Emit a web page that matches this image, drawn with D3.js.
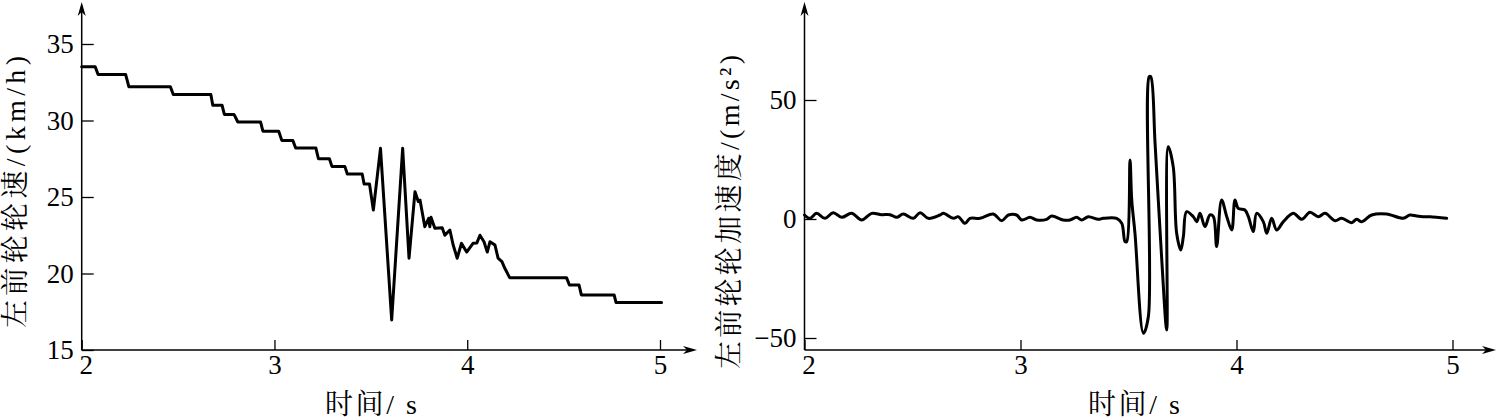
<!DOCTYPE html>
<html><head><meta charset="utf-8">
<script src="https://cdn.jsdelivr.net/npm/d3@7"></script>
<style>body{margin:0;background:#fff}
svg text{font-family:"Liberation Serif",Tinos,"Noto Serif CJK SC","Noto Serif",serif;}
svg text.cjk{font-family:"Liberation Serif",Tinos,"Noto Serif CJK SC","Noto Sans CJK SC",serif;}
</style>
</head><body><svg id="c" width="1497" height="420"></svg>
<script>
// ---- data ----
const timeL = [2.000,2.070,2.085,2.228,2.245,2.460,2.475,2.670,2.680,2.728,2.740,2.790,2.810,2.928,2.940,3.022,3.038,3.095,3.110,3.215,3.228,3.285,3.298,3.365,3.378,3.455,3.465,3.493,3.513,3.550,3.608,3.665,3.698,3.729,3.746,3.755,3.780,3.800,3.806,3.812,3.832,3.870,3.884,3.910,3.927,3.948,3.970,3.997,4.030,4.050,4.066,4.087,4.104,4.118,4.144,4.160,4.180,4.195,4.220,4.515,4.530,4.580,4.592,4.762,4.772,5.008];
const speedL = [33.52,33.52,33.0,33.0,32.2,32.2,31.7,31.7,31.0,31.0,30.4,30.4,29.9,29.9,29.3,29.3,28.7,28.7,28.2,28.2,27.5,27.5,27.0,27.0,26.5,26.5,25.85,25.85,24.15,28.18,16.96,28.18,21.0,25.35,24.7,24.8,23.06,23.6,23.06,23.67,22.95,22.99,22.5,22.84,21.86,21.0,21.97,21.4,21.97,22.0,22.5,22.08,21.4,22.08,21.86,21.0,20.77,20.34,19.73,19.73,19.25,19.25,18.6,18.6,18.1,18.1];
const timeR = [2.000,2.025,2.056,2.095,2.133,2.172,2.218,2.265,2.311,2.357,2.396,2.427,2.457,2.504,2.535,2.573,2.627,2.643,2.689,2.712,2.743,2.766,2.813,2.874,2.913,2.944,2.982,3.006,3.044,3.075,3.121,3.144,3.198,3.229,3.260,3.283,3.314,3.360,3.383,3.445,3.469,3.484,3.492,3.507,3.515,3.530,3.569,3.592,3.596,3.603,3.623,3.654,3.677,3.684,3.707,3.723,3.742,3.754,3.769,3.800,3.816,3.831,3.854,3.877,3.893,3.908,3.931,3.955,3.978,3.993,4.008,4.039,4.055,4.078,4.093,4.124,4.140,4.163,4.186,4.217,4.263,4.302,4.340,4.379,4.410,4.456,4.487,4.533,4.556,4.580,4.626,4.695,4.772,4.803,4.834,4.865,4.896,4.973];
const accelR = [1.68,0.28,2.38,0.28,2.66,0.7,2.38,-0.42,2.38,1.82,1.82,0.7,2.1,0.28,2.66,0.28,1.68,2.38,0.28,0.98,-1.82,0.28,0.28,2.1,-0.7,1.68,1.68,-0.42,0.7,-0.42,-0.14,1.26,-0.42,-0.42,0.7,-0.42,0.98,-0.14,0.28,0.28,-1.82,-9.5,-9.5,24.8,8.0,-6.0,-48.0,-41.0,59.8,59.8,31.8,-17.2,-46.6,30.4,22.0,-6.0,-13.0,-7.4,3.08,0.98,-1.12,2.38,-3.2,1.68,0.98,-11.6,8.0,0.98,-4.6,8.0,4.48,3.78,0.98,-5.3,2.38,-1.12,-6.0,0.28,-4.6,-1.12,2.38,-0.14,2.8,0.98,2.38,-0.7,0.28,-1.54,-0.14,-1.12,1.68,2.1,0.28,1.68,1.26,0.98,0.98,0.28];
const xTicks = [2,3,4,5];
const yTicksL = [15,20,25,30,35];
const yTicksR = [-50,0,50];
const xTitle = "时间/ s";
const yTitleL = "左前轮轮速/(km/h)";
const yTitleR = "左前轮轮加速度/(m/s²)";

const svg = d3.select("#c");

function panel(cfg){
  const {x, y, times, vals, yTicks, yTitle, yTitlePos, yTitleLen, xTitlePos, xEnd, base, curve} = cfg;
  const g = svg.append("g");
  const x0 = x.range()[0];
  g.append("line").attr("x1",x0).attr("x2",xEnd-8).attr("y1",base).attr("y2",base)
    .attr("stroke","#000").attr("stroke-width",1.5);
  g.append("line").attr("x1",x0).attr("x2",x0).attr("y1",base).attr("y2",10)
    .attr("stroke","#000").attr("stroke-width",1.5);
  g.append("path").attr("d",`M${xEnd},${base} L${xEnd-14},${base-4} L${xEnd-10},${base} L${xEnd-14},${base+4}Z`).attr("fill","#000");
  g.append("path").attr("d",`M${x0},2 L${x0-4},16 L${x0},12 L${x0+4},16Z`).attr("fill","#000");
  const gx = g.append("g").attr("transform",`translate(0,${base})`)
    .call(d3.axisBottom(x).tickValues(xTicks).tickFormat(d3.format("d")).tickSizeInner(-10).tickSizeOuter(0).tickPadding(5));
  gx.select(".domain").remove();
  gx.attr("font-family",null);
  gx.selectAll("line").attr("stroke-width",1.3);
  gx.selectAll("text").attr("font-size",27).attr("fill","#000");
  gx.selectAll(".tick").filter(d=>d===xTicks[0]).select("text").attr("dx","0.15em");
  const gy = g.append("g").attr("transform",`translate(${x0},0)`)
    .call(d3.axisLeft(y).tickValues(yTicks).tickFormat(d=> d<0 ? "\u2212"+Math.abs(d) : d).tickSizeInner(-12).tickSizeOuter(0).tickPadding(8));
  gy.select(".domain").remove();
  gy.attr("font-family",null);
  gy.selectAll("line").attr("stroke-width",1.3);
  gy.selectAll("text").attr("font-size",27).attr("fill","#000");
  const pts = times.map((t,i)=>[t, vals[i]]);
  g.append("path").datum(pts)
    .attr("d", d3.line().curve(curve).x(d=>x(d[0])).y(d=>y(d[1])))
    .attr("fill","none").attr("stroke","#000").attr("stroke-width",3)
    .attr("stroke-linejoin","round").attr("stroke-linecap","round");
  g.append("text").attr("class","cjk").attr("x",xTitlePos[0]).attr("y",xTitlePos[1])
    .attr("text-anchor","middle").attr("font-size",28)
    .attr("textLength",92).attr("lengthAdjust","spacing").text(xTitle);
  g.append("text").attr("class","cjk").attr("transform",`translate(${yTitlePos[0]},${yTitlePos[1]}) rotate(-90)`)
    .attr("text-anchor","middle").attr("dominant-baseline","central")
    .attr("font-size",28)
    .attr("textLength",yTitleLen).attr("lengthAdjust","spacing").text(yTitle);
}

panel({
  x: d3.scaleLinear([2,5],[81.7,660]),
  y: d3.scaleLinear([15,35],[350,44]),
  times: timeL, vals: speedL, yTicks: yTicksL,
  yTitle: yTitleL, yTitlePos:[15,192], yTitleLen:272,
  xTitlePos:[371,414], xEnd:697, base:350, curve: d3.curveLinear
});
panel({
  x: d3.scaleLinear([2,5],[804.5,1452.5]),
  y: d3.scaleLinear([-50,50],[338,100]),
  times: timeR, vals: accelR, yTicks: yTicksR,
  yTitle: yTitleR, yTitlePos:[729,212], yTitleLen:314,
  xTitlePos:[1134,414], xEnd:1496, base:350, curve: d3.curveCatmullRom.alpha(0.5)
});
</script>
</body></html>
